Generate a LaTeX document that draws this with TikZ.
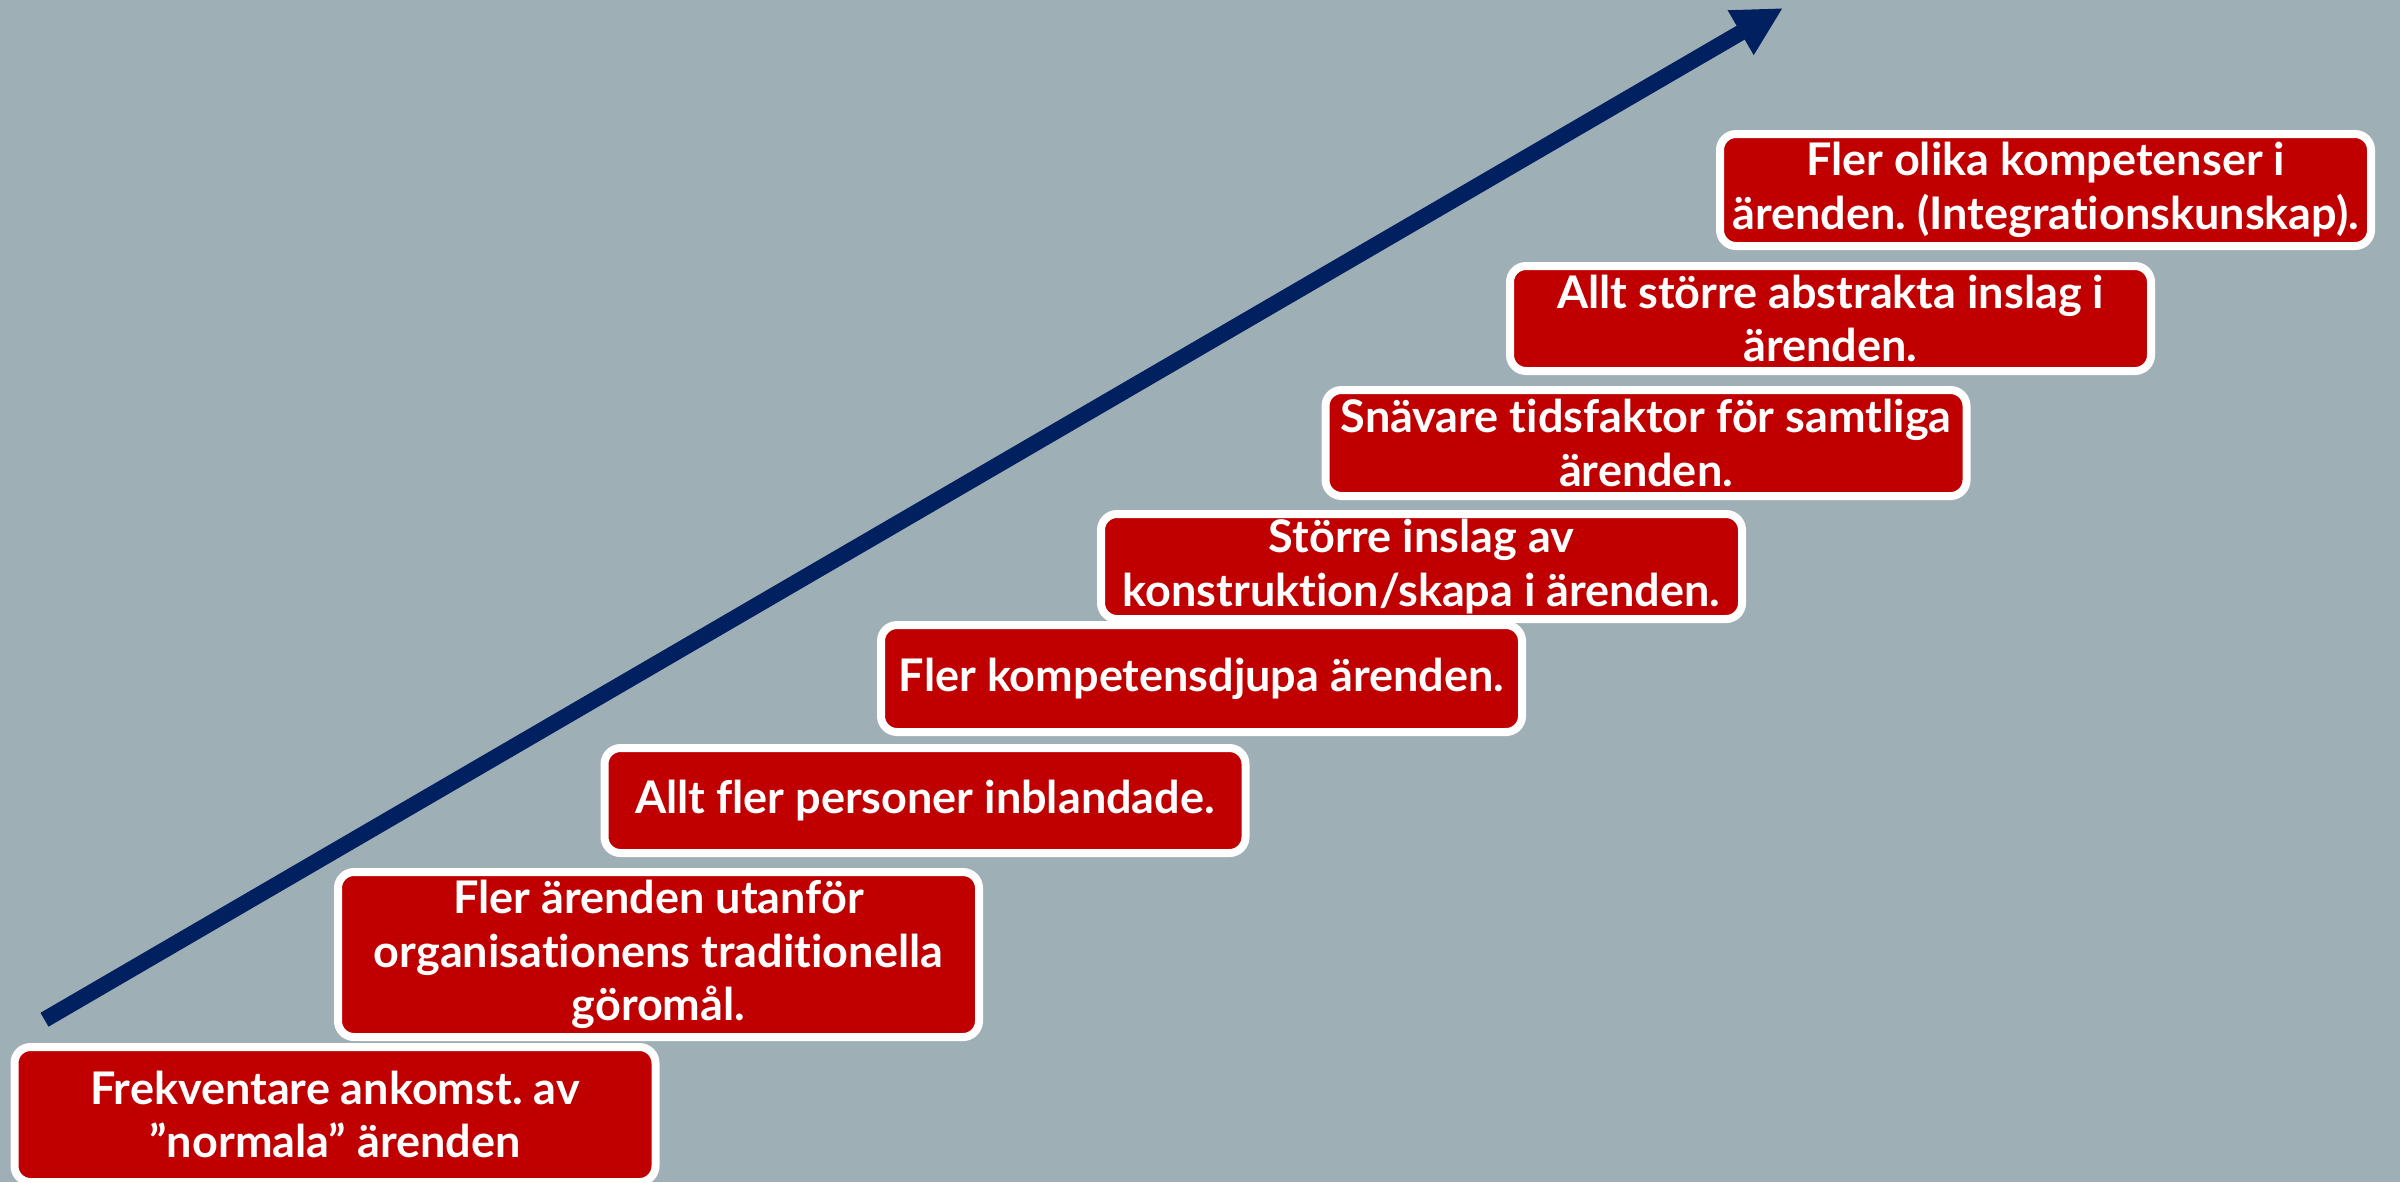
\documentclass[tikz,border=0pt]{standalone}
\usepackage{fontspec}
\setmainfont{Lato}[Ligatures={NoCommon}]
\usetikzlibrary{arrows.meta}
\definecolor{bgblue}{RGB}{158,175,181}
\definecolor{boxred}{RGB}{192,0,0}
\definecolor{navy}{RGB}{0,32,96}
\frenchspacing

\begin{document}
\begin{tikzpicture}[
  stair/.style={draw=white, line width=0.8mm, fill=boxred, rounded corners=1.6mm,
    text=white, font=\bfseries\fontsize{12.8}{15.3}\selectfont, align=center,
    minimum width=6.41cm, inner sep=0pt}
  ]
  % --- background ---
  \fill[bgblue] (0,0) rectangle (24,-11.82);
  \useasboundingbox (0,0) rectangle (24,-11.82);

  % --- Arrow ---
  \coordinate (start) at (0.445,-10.197);
  \coordinate (tip) at (17.83,-0.08);
  \draw[navy, line width=1.6mm, -{Triangle[length=4.9mm, width=4.8mm]}] (start) -- (tip);

  % --- Steps (bottom to top) ---
  \node[stair, minimum height=1.35cm] (s1) at (3.35,-11.145)
    {Frekventare ankomst. av\\”normala” ärenden};
  \node[stair, minimum height=1.65cm] (s2) at (6.585,-9.545)
    {Fler ärenden utanför\\organisationens traditionella\\göromål.};
  \node[stair, minimum height=1.05cm] (s3) at (9.25,-8.005)
    {Allt fler personer inblandade.};
  \node[stair, minimum height=1.07cm] (s4) at (12.015,-6.785)
    {Fler kompetensdjupa ärenden.};
  \node[stair, minimum height=1.05cm] (s5) at (14.215,-5.665)
    {Större inslag av\\konstruktion/skapa i ärenden.};
  \node[stair, minimum height=1.06cm] (s6) at (16.46,-4.43)
    {Snävare tidsfaktor för samtliga\\ärenden.};
  \node[stair, minimum height=1.05cm] (s7) at (18.305,-3.185)
    {Allt större abstrakta inslag i\\ärenden.};
  % top step is a bit wider
  \node[stair, minimum height=1.12cm, minimum width=6.51cm] (s8) at (20.455,-1.90)
    {Fler olika kompetenser i\\ärenden. (Integrationskunskap).};
\end{tikzpicture}
\end{document}
